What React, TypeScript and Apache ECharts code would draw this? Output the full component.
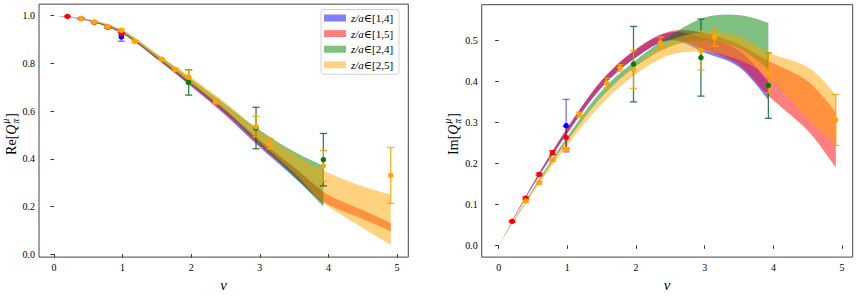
import React, { useEffect, useRef } from "react";
import * as echarts from "echarts";

const FONT = "'Liberation Serif', 'DejaVu Serif', serif";

// ---------- legend / colours ----------
const bandNames = ["z/a∈[1,4]", "z/a∈[1,5]", "z/a∈[2,4]", "z/a∈[2,5]"];
const bandColors = ["rgba(0,0,255,0.5)", "rgba(255,0,0,0.5)", "rgba(0,128,0,0.5)", "rgba(255,165,0,0.5)"];
const pointColors = ["#0000ff", "#ff0000", "#008000", "#ffa500"];
const barColors = ["rgba(40,40,255,0.65)", "rgba(255,0,0,0.75)", "rgba(0,100,30,0.8)", "rgba(255,160,0,0.85)"];

// ---------- ticks ----------
const xTicks = [0, 1, 2, 3, 4, 5];
const reYTicks = [0, 0.2, 0.4, 0.6, 0.8, 1.0];
const imYTicks = [0, 0.1, 0.2, 0.3, 0.4, 0.5];

// ---------- band abscissae ----------
const nuShort = [0, 0.5, 1, 1.5, 2, 2.5, 3, 3.5, 3.927];
const nuLong = [0, 0.5, 1, 1.5, 2, 2.5, 3, 3.5, 3.927, 4.5, 4.909];

// ---------- Re bands ----------
const reBlueLo = [1, 0.979, 0.924, 0.818, 0.703, 0.583, 0.448, 0.322, 0.21];
const reBlueHi = [1, 0.982, 0.931, 0.828, 0.72, 0.605, 0.478, 0.362, 0.262];
const reRedLo = [1, 0.979, 0.924, 0.819, 0.706, 0.588, 0.455, 0.335, 0.22, 0.148, 0.095];
const reRedHi = [1, 0.982, 0.93, 0.828, 0.72, 0.605, 0.478, 0.365, 0.26, 0.185, 0.13];
const reGreenLo = [1, 0.981, 0.929, 0.824, 0.712, 0.598, 0.462, 0.325, 0.2];
const reGreenHi = [1, 0.984, 0.937, 0.837, 0.735, 0.628, 0.52, 0.43, 0.37];
const reOrangeLo = [1, 0.982, 0.931, 0.827, 0.716, 0.602, 0.468, 0.34, 0.215, 0.11, 0.04];
const reOrangeHi = [1, 0.985, 0.94, 0.842, 0.742, 0.635, 0.515, 0.42, 0.35, 0.285, 0.25];

// ---------- Im bands ----------
const imBlueLo = [0, 0.146, 0.274, 0.385, 0.458, 0.5, 0.47, 0.435, 0.355];
const imBlueHi = [0, 0.151, 0.286, 0.402, 0.478, 0.52, 0.505, 0.475, 0.4];
const imRedLo = [0, 0.146, 0.274, 0.386, 0.459, 0.502, 0.478, 0.44, 0.365, 0.28, 0.19];
const imRedHi = [0, 0.151, 0.287, 0.403, 0.479, 0.522, 0.518, 0.49, 0.45, 0.4, 0.325];
const imGreenLo = [0, 0.133, 0.255, 0.362, 0.437, 0.485, 0.5, 0.48, 0.43];
const imGreenHi = [0, 0.138, 0.265, 0.377, 0.452, 0.512, 0.556, 0.562, 0.543];
const imOrangeLo = [0, 0.128, 0.245, 0.345, 0.418, 0.465, 0.472, 0.452, 0.41, 0.31, 0.245];
const imOrangeHi = [0, 0.134, 0.258, 0.362, 0.44, 0.5, 0.52, 0.51, 0.47, 0.435, 0.368];

// ---------- Re data points ----------
const reBlueNu = [0.982];
const reBlueVal = [0.911];
const reBlueErr = [0.018];
const reRedNu = [0.196, 0.393, 0.589, 0.785, 0.982];
const reRedVal = [0.997, 0.988, 0.972, 0.951, 0.925];
const reRedErr = [0.002, 0.002, 0.002, 0.003, 0.006];
const reGreenNu = [1.963, 2.945, 3.927];
const reGreenVal = [0.72, 0.529, 0.396];
const reGreenErr = [0.053, 0.087, 0.11];
const reOrangeNu = [0.393, 0.589, 0.785, 0.982, 1.178, 1.571, 1.767, 1.963, 2.356, 2.945, 3.142, 3.927, 4.909];
const reOrangeVal = [0.988, 0.974, 0.953, 0.939, 0.892, 0.817, 0.774, 0.743, 0.64, 0.535, 0.464, 0.37, 0.33];
const reOrangeErr = [0.002, 0.003, 0.004, 0.005, 0.004, 0.004, 0.005, 0.029, 0.01, 0.043, 0.022, 0.065, 0.117];

// ---------- Im data points ----------
const imBlueNu = [0.982];
const imBlueVal = [0.292];
const imBlueErr = [0.064];
const imRedNu = [0.196, 0.393, 0.589, 0.785, 0.982];
const imRedVal = [0.0587, 0.115, 0.173, 0.226, 0.263];
const imRedErr = [0.002, 0.003, 0.003, 0.005, 0.027];
const imGreenNu = [1.963, 2.945, 3.927];
const imGreenVal = [0.442, 0.458, 0.39];
const imGreenErr = [0.092, 0.094, 0.08];
const imOrangeNu = [0.393, 0.589, 0.785, 0.982, 1.178, 1.571, 1.767, 1.963, 2.356, 2.945, 3.142, 3.927, 4.909];
const imOrangeVal = [0.108, 0.153, 0.209, 0.234, 0.319, 0.396, 0.433, 0.429, 0.494, 0.475, 0.508, 0.421, 0.306];
const imOrangeErr = [0.003, 0.003, 0.004, 0.004, 0.006, 0.012, 0.008, 0.046, 0.014, 0.047, 0.022, 0.049, 0.062];

type Band = { nu: number[]; lo: number[]; hi: number[] };
type Pts = { nu: number[]; val: number[]; err: number[] };

const reBands: Band[] = [
  { nu: nuShort, lo: reBlueLo, hi: reBlueHi },
  { nu: nuLong, lo: reRedLo, hi: reRedHi },
  { nu: nuShort, lo: reGreenLo, hi: reGreenHi },
  { nu: nuLong, lo: reOrangeLo, hi: reOrangeHi },
];
const imBands: Band[] = [
  { nu: nuShort, lo: imBlueLo, hi: imBlueHi },
  { nu: nuLong, lo: imRedLo, hi: imRedHi },
  { nu: nuShort, lo: imGreenLo, hi: imGreenHi },
  { nu: nuLong, lo: imOrangeLo, hi: imOrangeHi },
];
const rePts: Pts[] = [
  { nu: reBlueNu, val: reBlueVal, err: reBlueErr },
  { nu: reRedNu, val: reRedVal, err: reRedErr },
  { nu: reGreenNu, val: reGreenVal, err: reGreenErr },
  { nu: reOrangeNu, val: reOrangeVal, err: reOrangeErr },
];
const imPts: Pts[] = [
  { nu: imBlueNu, val: imBlueVal, err: imBlueErr },
  { nu: imRedNu, val: imRedVal, err: imRedErr },
  { nu: imGreenNu, val: imGreenVal, err: imGreenErr },
  { nu: imOrangeNu, val: imOrangeVal, err: imOrangeErr },
];

function f2(p: number[]) {
  return p[0].toFixed(2) + "," + p[1].toFixed(2);
}
function curve(pts: number[][]) {
  let d = "";
  const n = pts.length;
  for (let i = 0; i < n - 1; i++) {
    const p0 = pts[Math.max(i - 1, 0)];
    const p1 = pts[i];
    const p2 = pts[i + 1];
    const p3 = pts[Math.min(i + 2, n - 1)];
    const c1 = [p1[0] + (p2[0] - p0[0]) / 6, p1[1] + (p2[1] - p0[1]) / 6];
    const c2 = [p2[0] - (p3[0] - p1[0]) / 6, p2[1] - (p3[1] - p1[1]) / 6];
    d += " C" + f2(c1) + " " + f2(c2) + " " + f2(p2);
  }
  return d;
}

function bandSeries(b: Band, k: number, axis: number) {
  return {
    type: "custom",
    name: bandNames[k],
    coordinateSystem: "cartesian2d",
    xAxisIndex: axis,
    yAxisIndex: axis,
    silent: true,
    z: 1,
    itemStyle: { color: bandColors[k] },
    data: b.nu.map((n, i) => [n, b.lo[i], b.hi[i]]),
    encode: { x: 0, y: [1, 2] },
    renderItem: (params: any, api: any) => {
      if (params.dataIndexInside !== 0) return null;
      const n = params.dataInsideLength;
      const up: number[][] = [];
      const dn: number[][] = [];
      for (let i = 0; i < n; i++) {
        const x = api.value(0, i);
        up.push(api.coord([x, api.value(2, i)]));
        dn.push(api.coord([x, api.value(1, i)]));
      }
      const rev = dn.slice().reverse();
      const d = "M" + f2(up[0]) + curve(up) + " L" + f2(rev[0]) + curve(rev) + " Z";
      return { type: "path", shape: { pathData: d }, style: { fill: bandColors[k], stroke: null } };
    },
  };
}

function errSeries(p: Pts, k: number, axis: number) {
  return {
    type: "custom",
    coordinateSystem: "cartesian2d",
    xAxisIndex: axis,
    yAxisIndex: axis,
    silent: true,
    z: 3,
    data: p.nu.map((n, i) => [n, p.val[i] - p.err[i], p.val[i] + p.err[i]]),
    encode: { x: 0, y: [1, 2] },
    renderItem: (params: any, api: any) => {
      const x = api.value(0);
      const t = api.coord([x, api.value(2)]);
      const b = api.coord([x, api.value(1)]);
      const w = 3.6;
      const st = { stroke: barColors[k], lineWidth: 1.3 };
      return {
        type: "group",
        children: [
          { type: "line", shape: { x1: t[0], y1: t[1], x2: b[0], y2: b[1] }, style: st },
          { type: "line", shape: { x1: t[0] - w, y1: t[1], x2: t[0] + w, y2: t[1] }, style: st },
          { type: "line", shape: { x1: b[0] - w, y1: b[1], x2: b[0] + w, y2: b[1] }, style: st },
        ],
      };
    },
  };
}

function pointSeries(p: Pts, k: number, axis: number) {
  return {
    type: "scatter",
    xAxisIndex: axis,
    yAxisIndex: axis,
    silent: true,
    z: 4,
    symbol: "circle",
    symbolSize: 5.5,
    itemStyle: { color: pointColors[k], opacity: 1 },
    data: p.nu.map((n, i) => [n, p.val[i]]),
  };
}

let measureCtx: CanvasRenderingContext2D | null = null;
function measure(text: string, font: string) {
  if (!measureCtx) measureCtx = document.createElement("canvas").getContext("2d");
  if (!measureCtx) return text.length * 7;
  measureCtx.font = font;
  return measureCtx.measureText(text).width;
}

function yTitle(prefix: string, cx: number, cy: number) {
  const big = 14;
  const small = 9.5;
  const fN = `${big}px ${FONT}`;
  const fI = `italic ${big}px ${FONT}`;
  const fS = `italic ${small}px ${FONT}`;
  const w1 = measure(prefix + "[", fN);
  const w2 = measure("Q", fI);
  const w3 = Math.max(measure("μ", fS), measure("π", fS));
  const w4 = measure("]", fN);
  const L = w1 + w2 + 1 + w3 + 1 + w4;
  let x = -L / 2;
  const mk = (text: string, xx: number, yy: number, size: number, italic: boolean) => ({
    type: "text",
    x: xx,
    y: yy,
    style: {
      text,
      fontFamily: FONT,
      fontSize: size,
      fontStyle: italic ? "italic" : "normal",
      fill: "#000",
      textAlign: "left",
      textVerticalAlign: "middle",
    },
  });
  const children: any[] = [];
  children.push(mk(prefix + "[", x, 0, big, false));
  x += w1;
  children.push(mk("Q", x, 0, big, true));
  x += w2 + 1;
  children.push(mk("μ", x, -5, small, true));
  children.push(mk("π", x, 4.5, small, true));
  x += w3 + 1;
  children.push(mk("]", x, 0, big, false));
  return { type: "group", x: cx, y: cy, rotation: Math.PI / 2, silent: true, children };
}

function xAxisOpt(grid: number, min: number, max: number) {
  return {
    type: "value",
    gridIndex: grid,
    min,
    max,
    name: "ν",
    nameLocation: "middle",
    nameGap: 11,
    nameTextStyle: { fontFamily: FONT, fontStyle: "italic", fontSize: 15, color: "#000" },
    axisLine: { show: false },
    splitLine: { show: false },
    axisTick: { show: true, inside: false, length: 3.5, lineStyle: { color: "#333" }, customValues: xTicks },
    axisLabel: {
      customValues: xTicks,
      margin: 5,
      fontFamily: FONT,
      fontSize: 10,
      color: "#000",
      formatter: (v: number) => String(v),
    },
  };
}

function yAxisOpt(grid: number, min: number, max: number, ticks: number[]) {
  return {
    type: "value",
    gridIndex: grid,
    min,
    max,
    axisLine: { show: false },
    splitLine: { show: false },
    axisTick: { show: true, inside: false, length: 3.5, lineStyle: { color: "#333" }, customValues: ticks },
    axisLabel: {
      customValues: ticks,
      margin: 4,
      fontFamily: FONT,
      fontSize: 10,
      color: "#000",
      formatter: (v: number) => v.toFixed(1),
    },
  };
}

export default function App() {
  const ref = useRef<HTMLDivElement>(null);
  useEffect(() => {
    if (!ref.current) return;
    const chart = echarts.init(ref.current, undefined, { renderer: "svg" });
    const series: any[] = [];
    reBands.forEach((b, k) => series.push(bandSeries(b, k, 0)));
    imBands.forEach((b, k) => series.push(bandSeries(b, k, 1)));
    rePts.forEach((p, k) => series.push(errSeries(p, k, 0)));
    imPts.forEach((p, k) => series.push(errSeries(p, k, 1)));
    rePts.forEach((p, k) => series.push(pointSeries(p, k, 0)));
    imPts.forEach((p, k) => series.push(pointSeries(p, k, 1)));

    chart.setOption({
      animation: false,
      backgroundColor: "#fff",
      grid: [
        { left: 39, top: 4.15, width: 369.3, height: 259.2, show: true, borderColor: "#444", borderWidth: 1, backgroundColor: "transparent" },
        { left: 481.7, top: 4.7, width: 371, height: 258.6, show: true, borderColor: "#444", borderWidth: 1, backgroundColor: "transparent" },
      ],
      xAxis: [xAxisOpt(0, -0.2187, 5.165), xAxisOpt(1, -0.2476, 5.155)],
      yAxis: [yAxisOpt(0, -0.0125, 1.0485, reYTicks), yAxisOpt(1, -0.0286, 0.587, imYTicks)],
      legend: {
        data: bandNames.map((n, i) => ({ name: n, itemStyle: { color: bandColors[i] } })),
        orient: "vertical",
        left: 321,
        top: 9.5,
        icon: "rect",
        itemWidth: 22,
        itemHeight: 7,
        itemGap: 3.6,
        padding: [2.5, 6, 3.5, 3],
        backgroundColor: "rgba(255,255,255,0.85)",
        borderColor: "#d0d0d0",
        borderWidth: 1,
        borderRadius: 3,
        selectedMode: false,
        formatter: (name: string) => `{i|z/a}{n|${name.slice(3)}}`,
        textStyle: {
          fontFamily: FONT,
          fontSize: 11,
          color: "#000",
          lineHeight: 12,
          rich: {
            i: { fontFamily: FONT, fontSize: 11, fontStyle: "italic", color: "#000", lineHeight: 12 },
            n: { fontFamily: FONT, fontSize: 11, color: "#000", lineHeight: 12 },
          },
        },
      },
      graphic: [yTitle("Re", 11, 134), yTitle("Im", 453, 134)],
      series,
    });
    return () => chart.dispose();
  }, []);
  return <div ref={ref} style={{ position: "absolute", left: 0, top: 0, width: 856, height: 297 }} />;
}
